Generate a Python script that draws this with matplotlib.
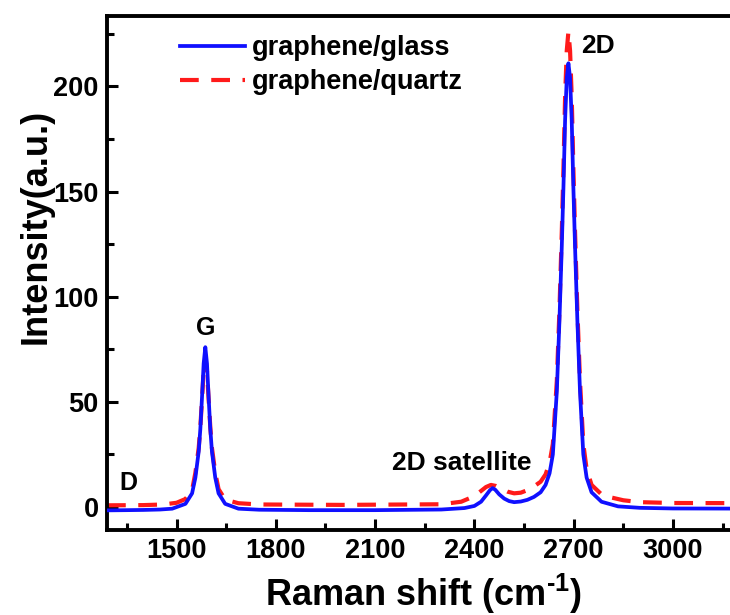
import matplotlib
matplotlib.use("Agg")
import matplotlib.pyplot as plt
from matplotlib.ticker import MultipleLocator

plt.rcParams['font.family'] = ['Liberation Sans', 'DejaVu Sans']
plt.rcParams['font.weight'] = 'bold'
plt.rcParams['mathtext.fontset'] = 'custom'
plt.rcParams['mathtext.rm'] = 'Liberation Sans:bold'
plt.rcParams['mathtext.bf'] = 'Liberation Sans:bold'

# Raman spectra
glass_x = [1290, 1350, 1400, 1450, 1487, 1527, 1547, 1557, 1567, 1572, 1577, 1582, 1587,
           1592, 1597, 1602, 1607, 1617, 1627, 1647, 1687, 1750, 1900, 2100, 2300, 2370,
           2400, 2420, 2435, 2447, 2455, 2463, 2475, 2490, 2505, 2520, 2540, 2560, 2580,
           2600, 2615, 2627, 2637, 2649, 2657, 2664, 2669, 2674, 2679, 2684, 2689, 2694,
           2699, 2704, 2711, 2719, 2729, 2739, 2754, 2784, 2834, 2900, 3000, 3300]
glass_y = [-1.6, -1.5, -1.4, -1.2, -0.8, 1.5, 6.5, 14, 26.4, 37.2, 52.2, 68.3, 76,
           68.3, 52.2, 37.2, 26.4, 14, 6.5, 1.5, -0.8, -1.3, -1.5, -1.5, -1.2, -0.5,
           0.5, 2.5, 5.5, 8, 9, 8.2, 6, 4, 2.8, 2.3, 2.6, 3.4, 4.8,
           7, 10.5, 16, 25, 55, 89, 124, 152, 184, 204, 211, 204, 184,
           152, 124, 89, 55, 25, 14, 7, 2.5, 0.3, -0.4, -0.7, -0.8]

quartz_x = [1290, 1400, 1460, 1500, 1527, 1547, 1557, 1567, 1572, 1577, 1582, 1587, 1592,
            1597, 1602, 1607, 1617, 1627, 1647, 1687, 1750, 2000, 2300, 2360, 2390, 2415,
            2435, 2450, 2465, 2480, 2500, 2520, 2540, 2560, 2580, 2600, 2615, 2627, 2637,
            2649, 2657, 2664, 2669, 2674, 2679, 2684, 2689, 2694, 2699, 2704, 2711, 2719,
            2729, 2739, 2754, 2784, 2814, 2850, 2900, 3000, 3300]
quartz_y = [0.8, 0.9, 1.2, 2, 3.8, 8, 16.3, 28.1, 38.1, 51.2, 64.6, 70.8, 64.6,
            51.2, 38.1, 28.1, 16.3, 8.5, 3.5, 1.8, 1.2, 1, 1.3, 2.5, 4.5, 7,
            9.5, 10.5, 10, 8.8, 7.3, 6.5, 6.8, 8, 9.8, 12, 15.5, 21, 30,
            60, 94, 131, 161, 195, 217, 226, 217, 195, 161, 131, 94, 60,
            30, 18, 10.5, 6, 4.5, 3.2, 2.3, 1.9, 1.8]

fig = plt.figure(figsize=(7.3, 6.15), dpi=100)
# the original is cropped: the right spine sits just past the image edge
ax = fig.add_axes([0.1466, 0.138, 0.866, 0.836])

ax.plot(glass_x, glass_y, color='#1010ff', lw=2.7, label='graphene/glass', zorder=3)
ax.plot(quartz_x, quartz_y, color='#ff1a1a', lw=3.0, ls=(0, (4.5, 3)),
        label='graphene/quartz', zorder=2)

ax.set_xlim(1290, 3200)
ax.set_ylim(-11, 233.5)
ax.xaxis.set_major_locator(MultipleLocator(300))
ax.xaxis.set_minor_locator(MultipleLocator(150))
ax.yaxis.set_major_locator(MultipleLocator(50))
ax.yaxis.set_minor_locator(MultipleLocator(25))
ax.tick_params(which='both', direction='in', width=2.2, labelsize=19.5)
ax.tick_params(which='major', length=8, pad=6)
ax.tick_params(which='minor', length=5)
for s in ax.spines.values():
    s.set_linewidth(2.8)

ax.set_xlabel('Raman shift (cm$^{\\text{-}1}$)', fontsize=26, fontweight='bold', labelpad=5)
ax.set_ylabel('Intensity(a.u.)', fontsize=26, fontweight='bold')
ax.yaxis.set_label_coords(-0.085, 0.59)

ax.text(1355, 11.5, 'D', fontsize=18, fontweight='bold', ha='center', va='center')
ax.text(1587, 85, 'G', fontsize=18, fontweight='bold', ha='center', va='center')
ax.text(2362, 21, '2D satellite', fontsize=19, fontweight='bold', ha='center', va='center')
ax.text(2722, 219, '2D', fontsize=19, fontweight='bold', ha='left', va='center')

ax.legend(loc='upper left', bbox_to_anchor=(0.077, 1.01), frameon=False, fontsize=19.5,
          handlelength=2.4, handletextpad=0.25, labelspacing=0.3)

fig.savefig('out.png', dpi=100)
